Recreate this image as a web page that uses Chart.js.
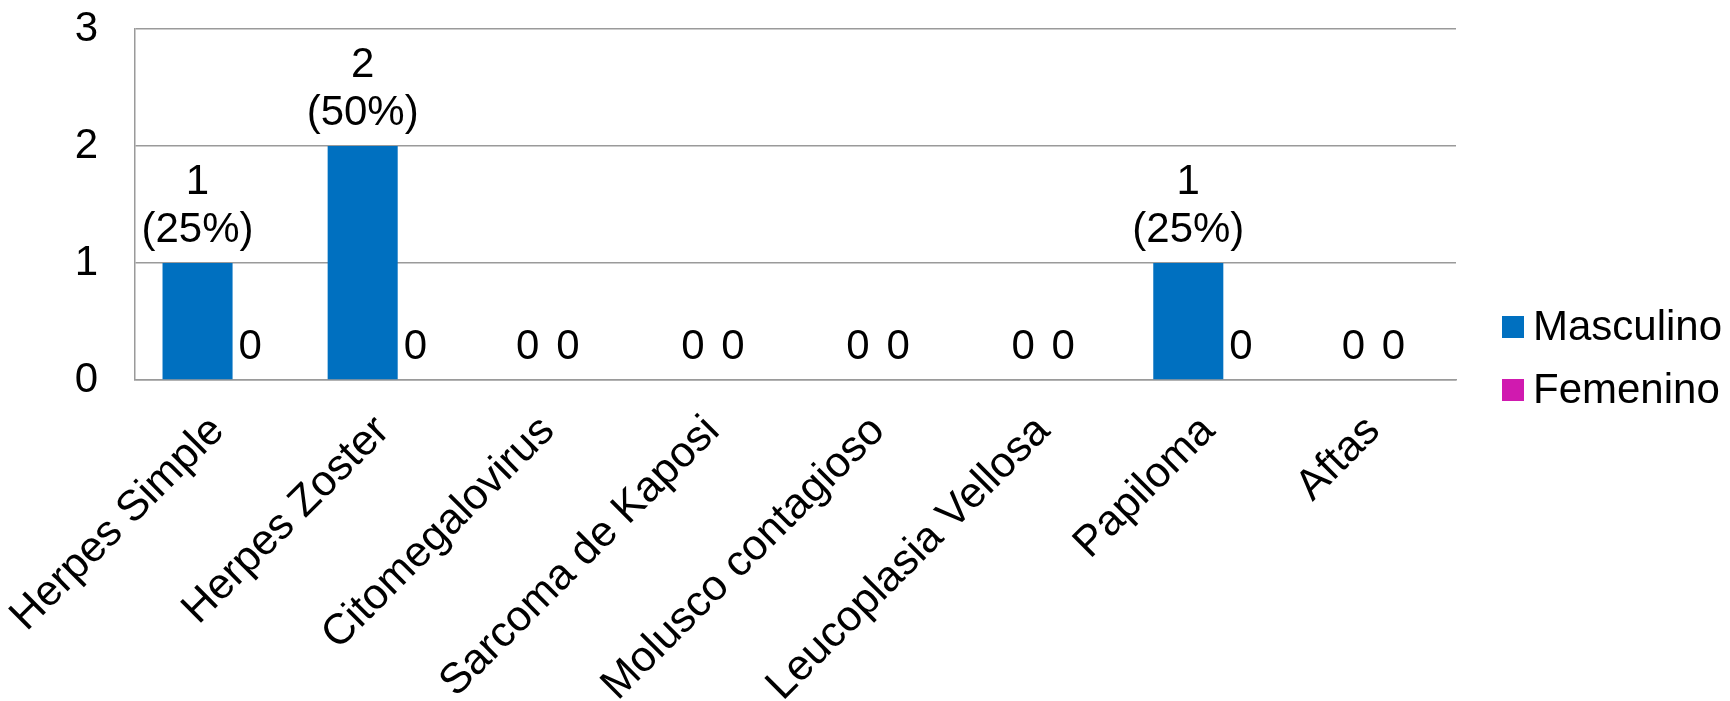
<!DOCTYPE html>
<html>
<head>
<meta charset="utf-8">
<script src="https://cdn.jsdelivr.net/npm/chart.js@4.4.1/dist/chart.umd.min.js"></script>
<style>
  html, body { margin: 0; padding: 0; background: #fff; }
</style>
</head>
<body>
<canvas id="chart" width="1730" height="701"></canvas>
<script>
    const categories = ['Herpes Simple', 'Herpes Zoster', 'Citomegalovirus', 'Sarcoma de Kaposi',
                        'Molusco contagioso', 'Leucoplasia Vellosa', 'Papiloma', 'Aftas'];
    const masculino = [1, 2, 0, 0, 0, 0, 1, 0];
    const femenino  = [0, 0, 0, 0, 0, 0, 0, 0];
    const yTicks = [0, 1, 2, 3];
    const seriesNames = ['Masculino', 'Femenino'];
    const seriesColors = ['#0070C0', '#D01AAF'];

    const FONT = '"Liberation Sans", Arial, sans-serif';
    const GRID = '#9a9a9a';

    // Etiquetes de valeur au-dessus des barres : "n" ou "n (xx%)"
    const valueLabels = {
        id: 'valueLabels',
        afterDatasetsDraw(chart) {
            const ctx = chart.ctx;
            ctx.save();
            ctx.font = '42px ' + FONT;
            ctx.fillStyle = '#000';
            ctx.textAlign = 'center';
            ctx.textBaseline = 'alphabetic';
            chart.data.datasets.forEach((ds, di) => {
                const meta = chart.getDatasetMeta(di);
                const total = ds.data.reduce((a, b) => a + b, 0);
                meta.data.forEach((bar, i) => {
                    const v = ds.data[i];
                    const lines = v > 0 ? [String(v), '(' + Math.round(v / total * 100) + '%)'] : [String(v)];
                    let x = bar.x;
                    // on pousse l'etiquette hors de la barre voisine
                    if (di > 0 && chart.data.datasets[di - 1].data[i] > 0) {
                        const prev = chart.getDatasetMeta(di - 1).data[i];
                        const w = ctx.measureText(lines[0]).width;
                        x = Math.max(x, prev.x + prev.width / 2 + w / 2 + 6);
                    }
                    lines.forEach((t, k) => {
                        ctx.fillText(t, x, bar.y - 21 - (lines.length - 1 - k) * 48);
                    });
                });
            });
            ctx.restore();
        }
    };

    // Legende a droite, carres + texte
    const sideLegend = {
        id: 'sideLegend',
        afterDraw(chart) {
            const { ctx, chartArea } = chart;
            const x = chartArea.right + 46;
            let y = chartArea.bottom - 64;
            ctx.save();
            ctx.font = '42px ' + FONT;
            ctx.textBaseline = 'middle';
            ctx.textAlign = 'left';
            chart.data.datasets.forEach(ds => {
                ctx.fillStyle = ds.backgroundColor;
                ctx.fillRect(x, y, 22, 22);
                ctx.fillStyle = '#000';
                ctx.fillText(ds.label, x + 31, y + 12);
                y += 63;
            });
            ctx.restore();
        }
    };

    new Chart(document.getElementById('chart'), {
        type: 'bar',
        data: {
            labels: categories,
            datasets: [
                { label: seriesNames[0], data: masculino, backgroundColor: seriesColors[0] },
                { label: seriesNames[1], data: femenino, backgroundColor: seriesColors[1] }
            ]
        },
        options: {
            responsive: false,
            animation: false,
            devicePixelRatio: 1,
            layout: { padding: { top: 29, right: 274, left: 0, bottom: 0 } },
            datasets: { bar: { categoryPercentage: 80 / 165, barPercentage: 1.75 } },
            plugins: { legend: { display: false }, tooltip: { enabled: false } },
            scales: {
                x: {
                    grid: { display: false, drawTicks: false },
                    border: { display: true, color: GRID, width: 1.5 },
                    ticks: {
                        font: { size: 43, family: FONT }, color: '#000',
                        minRotation: 45, maxRotation: 45, autoSkip: false, padding: 26
                    },
                    afterFit(s) { s.height = 321; s.paddingLeft = 0; s.paddingRight = 0; }
                },
                y: {
                    min: 0, max: 3,
                    afterBuildTicks(s) { s.ticks = yTicks.map(v => ({ value: v })); },
                    grid: { color: GRID, lineWidth: 1.5, drawTicks: false },
                    border: { display: true, color: GRID, width: 1.5 },
                    ticks: { font: { size: 42, family: FONT }, color: '#000', padding: 37 },
                    afterFit(s) { s.width = 135; s.paddingTop = 0; s.paddingBottom = 0; }
                }
            }
        },
        plugins: [valueLabels, sideLegend]
    });
</script>
</body>
</html>
